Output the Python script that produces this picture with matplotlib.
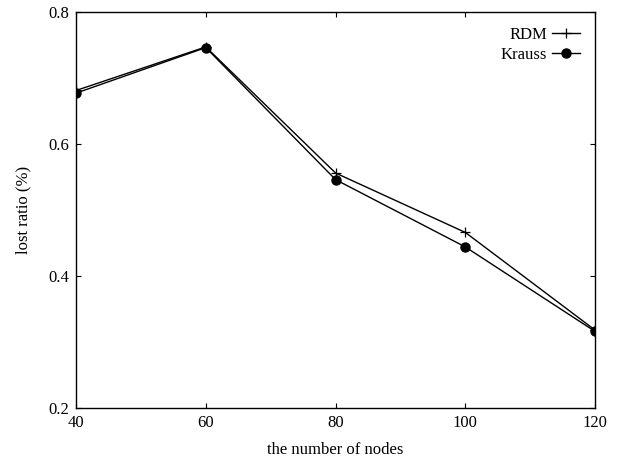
import matplotlib
matplotlib.use("Agg")
import matplotlib.pyplot as plt

plt.rcParams["font.family"] = ["Liberation Serif", "DejaVu Serif"]

nodes = [40, 60, 80, 100, 120]
rdm = [0.681, 0.747, 0.556, 0.466, 0.318]
krauss = [0.677, 0.746, 0.546, 0.444, 0.316]

xticks = [40, 60, 80, 100, 120]
yticks = [0.2, 0.4, 0.6, 0.8]

fig = plt.figure(figsize=(6.18, 4.59), dpi=100)
ax = fig.add_axes([0.123, 0.111, 0.840, 0.863])

ax.plot(nodes, rdm, color="black", lw=1.0, marker="+", ms=6.5, mew=0.9,
        label="RDM")
ax.plot(nodes, krauss, color="black", lw=1.0, marker="o", ms=6.5,
        label="Krauss")

ax.set_xlim(40, 120)
ax.set_ylim(0.2, 0.8)
ax.set_xticks(xticks)
ax.set_yticks(yticks)
ax.set_yticklabels([f"{v:.1f}" for v in yticks])
ax.tick_params(direction="in", top=True, right=True, length=3.6, width=0.8,
               labelsize=12, pad=5)
for s in ax.spines.values():
    s.set_linewidth(1.0)

ax.set_xlabel("the number of nodes", fontsize=12, labelpad=8)
ax.set_ylabel("lost ratio (%)", fontsize=12, labelpad=12)

ax.legend(loc="upper right", frameon=False, markerfirst=False, fontsize=12,
          handlelength=1.7, handletextpad=0.3, labelspacing=0.25,
          borderaxespad=0.5)

fig.savefig("out.png", dpi=100)
